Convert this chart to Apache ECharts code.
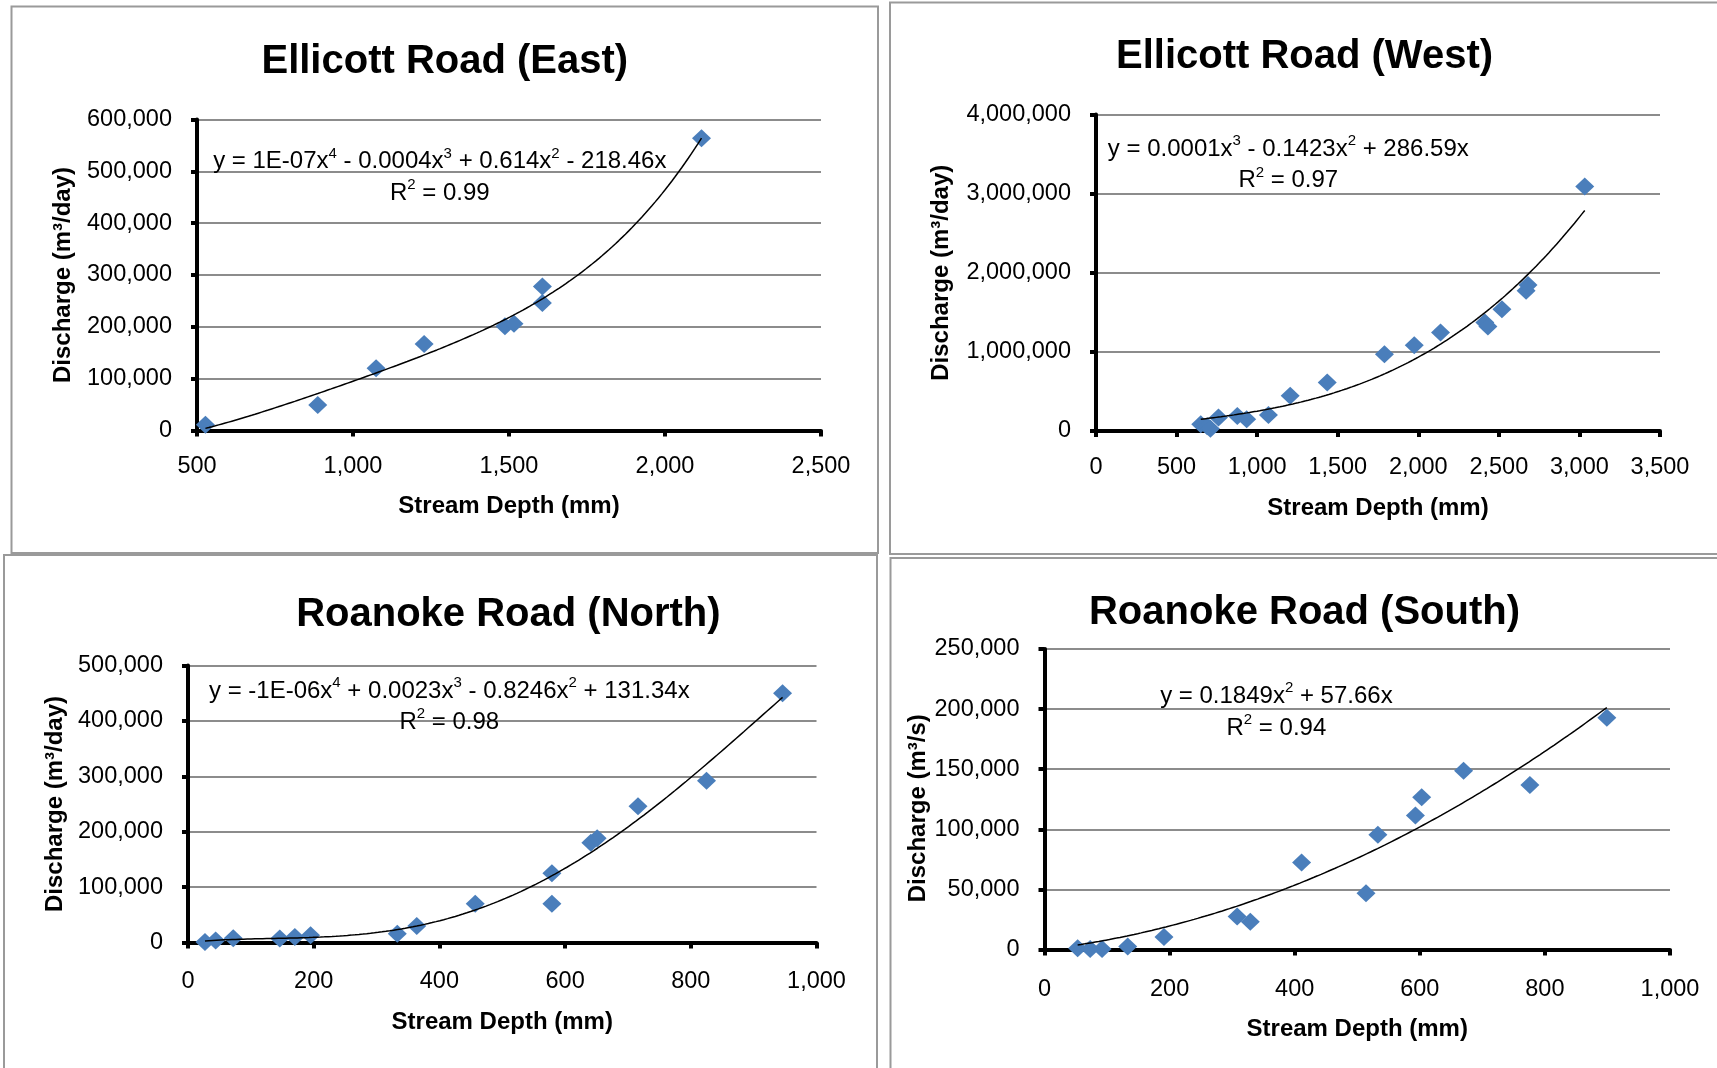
<!DOCTYPE html>
<html>
<head>
<meta charset="utf-8">
<title>Stream depth vs discharge</title>
<script src="https://cdn.jsdelivr.net/npm/echarts@6/dist/echarts.min.js"></script>
<style>
  html, body { margin: 0; padding: 0; background: #fff; }
  #chart { width: 1717px; height: 1068px; }
</style>
</head>
<body>
<div id="chart"></div>
<script>
// ---- Measurements: stream depth (mm) vs discharge ----
// Ellicott Road (East)
const eastDepth = [527, 887, 1074, 1228, 1487, 1516, 1607, 1607, 2117];
const eastFlow  = [11000, 49000, 120000, 167000, 201000, 206000, 278000, 246000, 564000];
// Ellicott Road (West)
const westDepth = [650, 690, 710, 760, 877, 935, 1070, 1205, 1435, 1790, 1975, 2138, 2413, 2432, 2519, 2669, 2681, 3033];
const westFlow  = [85000, 60000, 30000, 170000, 190000, 150000, 202000, 445000, 612000, 970000, 1084000, 1245000, 1370000, 1320000, 1540000, 1772000, 1844000, 3089000];
// Roanoke Road (North)
const northDepth = [27, 44, 72, 146, 170, 195, 333, 364, 457, 579, 579, 641, 651, 716, 825, 946];
const northFlow  = [1000, 3500, 7500, 7000, 10000, 13000, 16000, 30000, 70000, 125000, 70000, 180000, 188000, 246000, 292000, 450000];
// Roanoke Road (South)
const southDepth = [53, 73, 92, 133, 191, 308, 329, 411, 514, 533, 593, 603, 670, 776, 899];
const southFlow  = [1000, 500, 500, 2500, 10500, 27500, 23000, 72400, 46800, 95500, 111500, 126700, 148700, 136800, 192700];

const chartTitles = ['Ellicott Road (East)', 'Ellicott Road (West)', 'Roanoke Road (North)', 'Roanoke Road (South)'];
const xAxisTitle = 'Stream Depth (mm)';
const yAxisTitles = ['Discharge (m³/day)', 'Discharge (m³/day)', 'Discharge (m³/day)', 'Discharge (m³/s)'];

// Trendline equations, as [text, superscript] pieces
const eastEquation  = [['y = 1E-07x', '4'], [' - 0.0004x', '3'], [' + 0.614x', '2'], [' - 218.46x', '']];
const westEquation  = [['y = 0.0001x', '3'], [' - 0.1423x', '2'], [' + 286.59x', '']];
const northEquation = [['y = -1E-06x', '4'], [' + 0.0023x', '3'], [' - 0.8246x', '2'], [' + 131.34x', '']];
const southEquation = [['y = 0.1849x', '2'], [' + 57.66x', '']];
const rSquared = ['0.99', '0.97', '0.98', '0.94'];
const trendDegree = [4, 3, 4, 2];

// Axis scales: [min, max, interval]
const xScales = [[500, 2500, 500], [0, 3500, 500], [0, 1000, 200], [0, 1000, 200]];
const yScales = [[0, 600000, 100000], [0, 4000000, 1000000], [0, 500000, 100000], [0, 250000, 50000]];

const depths = [eastDepth, westDepth, northDepth, southDepth];
const flows = [eastFlow, westFlow, northFlow, southFlow];
const equations = [eastEquation, westEquation, northEquation, southEquation];

// ---- Page layout (pixels) ----
const layout = [
  { grid: { left: 197, top: 119.5, width: 624, height: 311 },      title: [444.8, 61.5],  eq: [439.8, 177.5],  xGap: 64, yGap: 122,   xMargin: 24, yNamePad: [0, 0, 0, 0],  frame: [11.5, 6.5, 866.5, 546.5] },
  { grid: { left: 1096, top: 114.5, width: 564, height: 316.5 },   title: [1304.5, 57],   eq: [1288.3, 165],   xGap: 65, yGap: 143,   xMargin: 25, yNamePad: [0, 0, 0, 0],  frame: [890, 2.5, 840, 551.5] },
  { grid: { left: 188, top: 665.5, width: 628.5, height: 277 },    title: [508.4, 614.5], eq: [449.3, 706.7],  xGap: 68, yGap: 120.5, xMargin: 27, yNamePad: [0, 0, 0, 0],  frame: [4, 555, 873, 520] },
  { grid: { left: 1044.5, top: 649, width: 625.5, height: 300.5 }, title: [1304.5, 612.5], eq: [1276.4, 712.2], xGap: 68, yGap: 114.5, xMargin: 28, yNamePad: [0, 18, 0, 0], frame: [890.5, 558, 840, 520] }
];

const FONT = "'Liberation Sans', Arial, sans-serif";
const MARKER_BLUE = '#4A7EBB';
const fmt = v => v.toLocaleString('en-US');

// Polynomial least-squares trendline with the intercept fixed at zero:
// y = c1*x + c2*x^2 + ... + cd*x^d
function fitThroughOrigin(xs, ys, degree) {
  const s = Math.max(...xs);
  const n = degree;
  const A = Array.from({ length: n }, () => new Array(n + 1).fill(0));
  xs.forEach((x0, k) => {
    const x = x0 / s;
    const p = [];
    for (let i = 1; i <= n; i++) p.push(Math.pow(x, i));
    for (let i = 0; i < n; i++) {
      for (let j = 0; j < n; j++) A[i][j] += p[i] * p[j];
      A[i][n] += p[i] * ys[k];
    }
  });
  for (let c = 0; c < n; c++) {
    let piv = c;
    for (let r = c + 1; r < n; r++) if (Math.abs(A[r][c]) > Math.abs(A[piv][c])) piv = r;
    [A[c], A[piv]] = [A[piv], A[c]];
    for (let r = 0; r < n; r++) {
      if (r === c) continue;
      const f = A[r][c] / A[c][c];
      for (let k = c; k <= n; k++) A[r][k] -= f * A[c][k];
    }
  }
  const coef = A.map((row, i) => row[n] / row[i]);
  return x0 => {
    const x = x0 / s;
    let y = 0;
    for (let i = 0; i < n; i++) y += coef[i] * Math.pow(x, i + 1);
    return y;
  };
}

function trendline(xs, ys, degree) {
  const f = fitThroughOrigin(xs, ys, degree);
  const lo = Math.min(...xs), hi = Math.max(...xs);
  const steps = 150;
  const pts = [];
  for (let i = 0; i <= steps; i++) {
    const x = lo + (hi - lo) * i / steps;
    pts.push([x, f(x)]);
  }
  return pts;
}

function equationText(parts, r2) {
  const line1 = parts.map(([t, sup]) => '{n|' + t + '}' + (sup ? '{s|' + sup + '}' : '')).join('');
  const line2 = '{n|R}{s|2}{n| = ' + r2 + '}';
  return line1 + '\n' + line2;
}

const axisFont = { fontFamily: FONT, fontSize: 23.5, color: '#000' };
const nameFont = { fontFamily: FONT, fontSize: 24, fontWeight: 'bold', color: '#000' };

const option = {
  animation: false,
  backgroundColor: '#fff',
  title: layout.map((L, i) => ({
    text: chartTitles[i],
    left: L.title[0],
    top: L.title[1],
    textAlign: 'center',
    textVerticalAlign: 'middle',
    padding: 0,
    textStyle: { fontFamily: FONT, fontSize: 40, fontWeight: 'bold', color: '#000' }
  })),
  grid: layout.map(L => Object.assign({ containLabel: false, outerBoundsMode: 'none' }, L.grid)),
  xAxis: layout.map((L, i) => ({
    type: 'value',
    gridIndex: i,
    min: xScales[i][0], max: xScales[i][1], interval: xScales[i][2],
    name: xAxisTitle,
    nameLocation: 'middle',
    nameGap: L.xGap,
    nameTextStyle: nameFont,
    axisLine: { show: true, onZero: false, lineStyle: { color: '#000', width: 4 } },
    axisTick: { show: true, inside: false, length: 6, lineStyle: { color: '#000', width: 4 } },
    axisLabel: Object.assign({ margin: L.xMargin, formatter: fmt }, axisFont),
    splitLine: { show: false }
  })),
  yAxis: layout.map((L, i) => ({
    type: 'value',
    gridIndex: i,
    min: yScales[i][0], max: yScales[i][1], interval: yScales[i][2],
    name: yAxisTitles[i],
    nameLocation: 'middle',
    nameGap: L.yGap,
    nameTextStyle: Object.assign({ padding: L.yNamePad }, nameFont),
    axisLine: { show: true, onZero: false, lineStyle: { color: '#000', width: 4 } },
    axisTick: { show: true, inside: false, length: 6, lineStyle: { color: '#000', width: 4 } },
    axisLabel: Object.assign({ margin: 25, formatter: fmt }, axisFont),
    splitLine: { show: true, lineStyle: { color: '#8c8c8c', width: 2 } }
  })),
  series: [].concat(...depths.map((xs, i) => [
    {
      type: 'scatter',
      xAxisIndex: i, yAxisIndex: i,
      symbol: 'diamond',
      symbolSize: [19, 18],
      itemStyle: { color: MARKER_BLUE, opacity: 1 },
      z: 3,
      data: xs.map((x, k) => [x, flows[i][k]])
    },
    {
      type: 'line',
      xAxisIndex: i, yAxisIndex: i,
      showSymbol: false,
      smooth: false,
      silent: true,
      z: 4,
      lineStyle: { color: '#000', width: 1.5 },
      data: trendline(xs, flows[i], trendDegree[i])
    }
  ])),
  graphic: [].concat(
    layout.map(L => ({
      type: 'rect',
      silent: true,
      z: -1,
      shape: { x: L.frame[0], y: L.frame[1], width: L.frame[2], height: L.frame[3] },
      style: { fill: 'none', stroke: '#9a9a9a', lineWidth: 2 }
    })),
    layout.map((L, i) => ({
      type: 'text',
      silent: true,
      x: L.eq[0],
      y: L.eq[1],
      z: 10,
      style: {
        text: equationText(equations[i], rSquared[i]),
        align: 'center',
        verticalAlign: 'middle',
        fill: '#000',
        rich: {
          n: { fontFamily: FONT, fontSize: 24, lineHeight: 31.5, fill: '#000' },
          s: { fontFamily: FONT, fontSize: 15, lineHeight: 20, verticalAlign: 'top', fill: '#000' }
        }
      }
    }))
  )
};

const chart = echarts.init(document.getElementById('chart'), null, { renderer: 'canvas' });
chart.setOption(option);
</script>
</body>
</html>
